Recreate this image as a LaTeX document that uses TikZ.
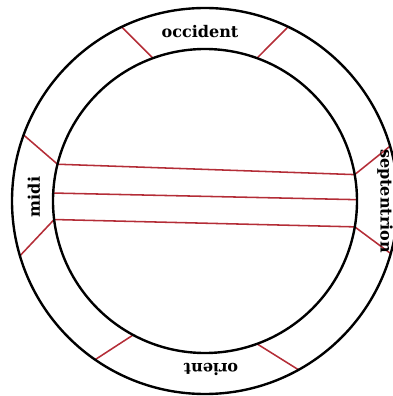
\documentclass[tikz,border=0pt]{standalone}
\usepackage{fontspec}
\setmainfont{DejaVu Serif}
\usetikzlibrary{calc}
\begin{document}
\begin{tikzpicture}[x=0.025cm,y=0.025cm,
  ring/.style={line width=1.7pt, draw=black},
  ringline/.style={line width=1.1pt, draw=redline},
  lbl/.style={font=\bfseries\fontsize{11.4}{13}\selectfont, inner sep=0pt}]
\definecolor{redline}{RGB}{180,45,55}
\useasboundingbox (0,0) rectangle (393,396);
\clip (0,0) rectangle (393,396);
\coordinate (c) at (205,195);
\def\ri{152}
\def\ro{193}
% endpoints on inner circle
\coordinate (ulI) at ($(c)+(110:\ri)$);
\coordinate (urI) at ($(c)+(70:\ri)$);
\coordinate (luI) at ($(c)+(166:\ri)$);
\coordinate (llI) at ($(c)+(187:\ri)$);
\coordinate (ruI) at ($(c)+(10:\ri)$);
\coordinate (rlI) at ($(c)+(-9.8:\ri)$);
\coordinate (blI) at ($(c)+(241.8:\ri)$);
\coordinate (brI) at ($(c)+(290:\ri)$);
\coordinate (lmI) at ($(c)+(177:\ri)$);
\coordinate (rmI) at ($(c)+(0.5:\ri)$);
% endpoints on outer circle
\coordinate (ulO) at ($(c)+(115.6:\ro)$);
\coordinate (urO) at ($(c)+(64.5:\ro)$);
\coordinate (luO) at ($(c)+(160:\ro)$);
\coordinate (llO) at ($(c)+(196.5:\ro)$);
\coordinate (ruO) at ($(c)+(16.5:\ro)$);
\coordinate (rlO) at ($(c)+(-15.8:\ro)$);
\coordinate (blO) at ($(c)+(235.3:\ro)$);
\coordinate (brO) at ($(c)+(299:\ro)$);
% ring dividers
\draw[ringline] (ulI) -- (ulO);
\draw[ringline] (urI) -- (urO);
\draw[ringline] (luI) -- (luO);
\draw[ringline] (llI) -- (llO);
\draw[ringline] (ruI) -- (ruO);
\draw[ringline] (rlI) -- (rlO);
\draw[ringline] (blI) -- (blO);
\draw[ringline] (brI) -- (brO);
% chords
\draw[ringline] (luI) -- (ruI);
\draw[ringline] (lmI) -- (rmI);
\draw[ringline] (llI) -- (rlI);
% circles
\draw[ring] (c) circle (\ro);
\draw[ring] (c) circle (\ri);
% labels
\node[lbl] (occ) at (200,364) {occident};
\node[lbl, rotate=90] (mid) at (34,199) {midi};
\node[lbl, rotate=-90] (sep) at (385,195) {septentrion};
\node[lbl, rotate=180] (ori) at (211,27) {orient};
\end{tikzpicture}
\end{document}
